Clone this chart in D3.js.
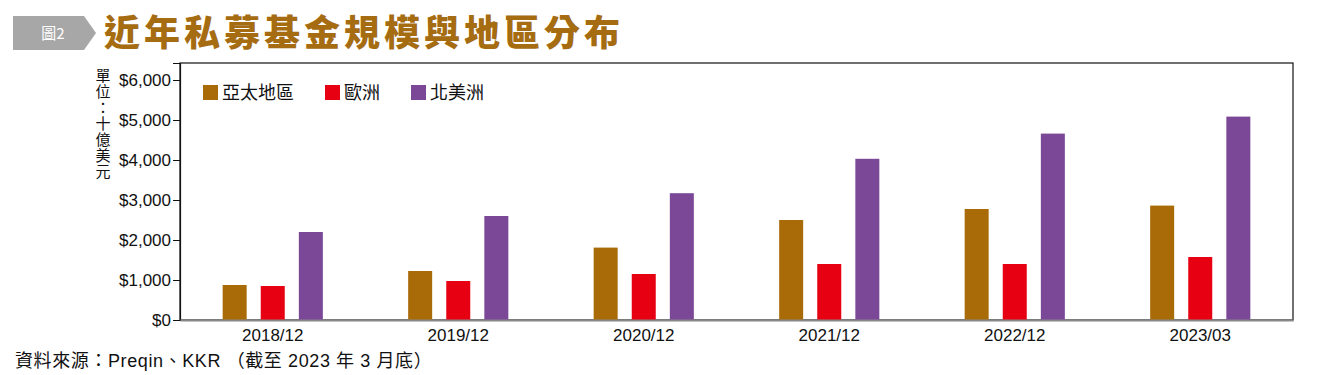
<!DOCTYPE html>
<html>
<head>
<meta charset="utf-8">
<script src="https://cdn.jsdelivr.net/npm/d3@7"></script>
<style>
  body { margin: 0; background: #fff; }
  svg text { font-family: "Liberation Sans", "Noto Sans CJK TC", sans-serif; }
</style>
</head>
<body>
<div id="chart"></div>
<script>
// data
const categories = ['2018/12', '2019/12', '2020/12', '2021/12', '2022/12', '2023/03'];
const seriesNames = ['亞太地區', '歐洲', '北美洲'];
const asiaPacific = [875, 1225, 1810, 2500, 2775, 2860];
const europe = [850, 975, 1150, 1400, 1400, 1575];
const northAmerica = [2200, 2600, 3170, 4030, 4660, 5085];
const yTicks = [0, 1000, 2000, 3000, 4000, 5000, 6000];
const seriesColors = ['#a96a08', '#e60012', '#7b4797'];

const W = 1318, H = 375;
const margin = { top: 63, right: 25, bottom: 55, left: 180 };
const width = W - margin.left - margin.right;
const height = H - margin.top - margin.bottom;

const svg = d3.select('#chart').append('svg')
    .attr('width', W)
    .attr('height', H);

// title badge
svg.append('path')
    .attr('d', 'M13,16 H84 L96,33 L84,50 H13 Z')
    .attr('fill', '#a7a7a7');
svg.append('text')
    .attr('x', 53).attr('y', 39)
    .attr('text-anchor', 'middle')
    .attr('fill', '#fff')
    .style('font-family', '"Noto Sans CJK TC", sans-serif')
    .style('font-size', '15px')
    .text('圖2');

svg.append('text')
    .attr('x', 104).attr('y', 46)
    .attr('fill', '#a66c12')
    .style('font-family', '"Noto Sans CJK TC", sans-serif')
    .style('font-weight', 900)
    .style('font-size', '36px')
    .style('letter-spacing', '4px')
    .text('近年私募基金規模與地區分布');

const chart = svg.append('g')
    .attr('transform', `translate(${margin.left},${margin.top})`);

const table = categories.map((c, i) => ({
    cat: c,
    values: [asiaPacific[i], europe[i], northAmerica[i]]
}));

const x0 = d3.scaleBand()
    .domain(categories)
    .range([0, width])
    .paddingInner(0.46)
    .paddingOuter(0.23);

const x1 = d3.scaleBand()
    .domain(d3.range(seriesNames.length))
    .range([0, x0.bandwidth()])
    .paddingInner(0.37);

const y = d3.scaleLinear()
    .domain([0, 6425])
    .range([height, 0]);

// frame
chart.append('rect')
    .attr('x', 0).attr('y', 0)
    .attr('width', width).attr('height', height)
    .attr('fill', 'none')
    .attr('stroke', '#111')
    .attr('stroke-width', 1.2);

// bars
chart.selectAll('.group')
    .data(table)
    .enter().append('g')
    .attr('class', 'group')
    .attr('transform', d => `translate(${x0(d.cat)},0)`)
    .selectAll('rect')
    .data(d => d.values.map((v, i) => ({ i, v })))
    .enter().append('rect')
    .attr('x', d => x1(d.i))
    .attr('y', d => y(d.v))
    .attr('width', x1.bandwidth())
    .attr('height', d => height - y(d.v))
    .attr('fill', d => seriesColors[d.i]);

// y axis
const yAxis = chart.append('g')
    .call(d3.axisLeft(y).tickValues(yTicks).tickSize(7).tickPadding(2)
        .tickFormat(d => '$' + d3.format(',')(d)));
yAxis.select('.domain').attr('stroke', '#111').attr('stroke-width', 1.2);
yAxis.selectAll('.tick line').attr('stroke', '#111');
yAxis.selectAll('.tick text')
    .attr('fill', '#111')
    .style('font-size', '17px')
    .style('font-family', '"Liberation Sans", sans-serif');

// x axis
const xAxis = chart.append('g')
    .attr('transform', `translate(0,${height})`)
    .call(d3.axisBottom(x0).tickSize(0).tickPadding(9));
xAxis.select('.domain').attr('stroke', '#888').attr('stroke-width', 2);
xAxis.selectAll('.tick text')
    .attr('fill', '#111')
    .style('font-size', '17px')
    .style('font-family', '"Liberation Sans", sans-serif');

// y unit label, written vertically
svg.append('text')
    .attr('x', 103).attr('y', 68)
    .attr('fill', '#111')
    .style('font-family', '"Noto Sans CJK TC", sans-serif')
    .style('font-size', '15px')
    .style('writing-mode', 'vertical-rl')
    .style('text-orientation', 'upright')
    .style('letter-spacing', '1px')
    .text('單位：十億美元');

// legend
const legend = chart.append('g')
    .attr('transform', 'translate(23,22)');
const legendX = [0, 122, 208];
seriesNames.forEach((name, i) => {
    const g = legend.append('g').attr('transform', `translate(${legendX[i]},0)`);
    g.append('rect')
        .attr('width', 15).attr('height', 15)
        .attr('fill', seriesColors[i]);
    g.append('text')
        .attr('x', 19).attr('y', 14)
        .attr('fill', '#111')
        .style('font-family', '"Noto Sans CJK TC", sans-serif')
        .style('font-size', '18px')
        .text(name);
});

// source
svg.append('text')
    .attr('x', 15).attr('y', 367)
    .attr('fill', '#111')
    .style('font-family', '"Liberation Sans", "Noto Sans CJK TC", sans-serif')
    .style('font-size', '18px')
    .style('letter-spacing', '0.6px')
    .text('資料來源：Preqin、KKR （截至 2023 年 3 月底）');
</script>
</body>
</html>
